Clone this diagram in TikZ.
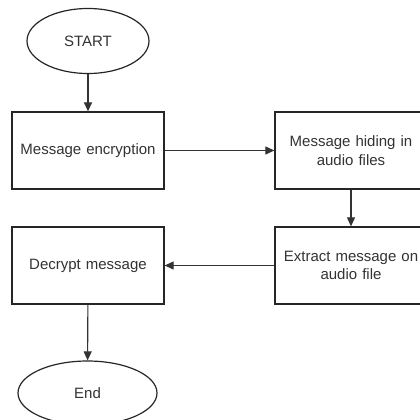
\documentclass[tikz,border=0pt]{standalone}
\usepackage{fontspec}
\setmainfont{Liberation Sans}
\usetikzlibrary{shapes.geometric,arrows.meta}
\definecolor{txt}{HTML}{333333}
\begin{document}
\begin{tikzpicture}[x=1pt,y=-1pt,
  every node/.style={font=\fontsize{15}{18.5}\selectfont, text=txt},
  box/.style={draw=black!85, line width=1.3pt, minimum width=152pt, minimum height=77pt, inner sep=0pt, text width=148pt, align=center},
  oval/.style={draw=black!85, line width=1.2pt, ellipse, inner sep=0pt},
  conn/.style={draw=black!80, line width=1.1pt, -{Triangle[length=9pt,width=8pt]}}]
\useasboundingbox (0,0) rectangle (420,420);
\clip (0,0) rectangle (420,420);
\fill[white] (0,0) rectangle (420,420);
\node[oval, minimum width=122pt, minimum height=65pt] (start) at (88,41) {START};
\node[box] (enc) at (88,150.5) {Message encryption};
\node[box] (hide) at (351,150.5) {Message hiding in\\audio files};
\node[box] (ext) at (351,265.5) {Extract message on\\audio file};
\node[box] (dec) at (88,265.5) {Decrypt message};
\node[oval, minimum width=139pt, minimum height=64pt] (end) at (87.5,393) {End};
\draw[conn] (start) -- (enc);
\draw[conn] (enc) -- (hide);
\draw[conn] (hide) -- (ext);
\draw[conn] (ext) -- (dec);
\draw[conn] (dec) -- (end);
\end{tikzpicture}
\end{document}
